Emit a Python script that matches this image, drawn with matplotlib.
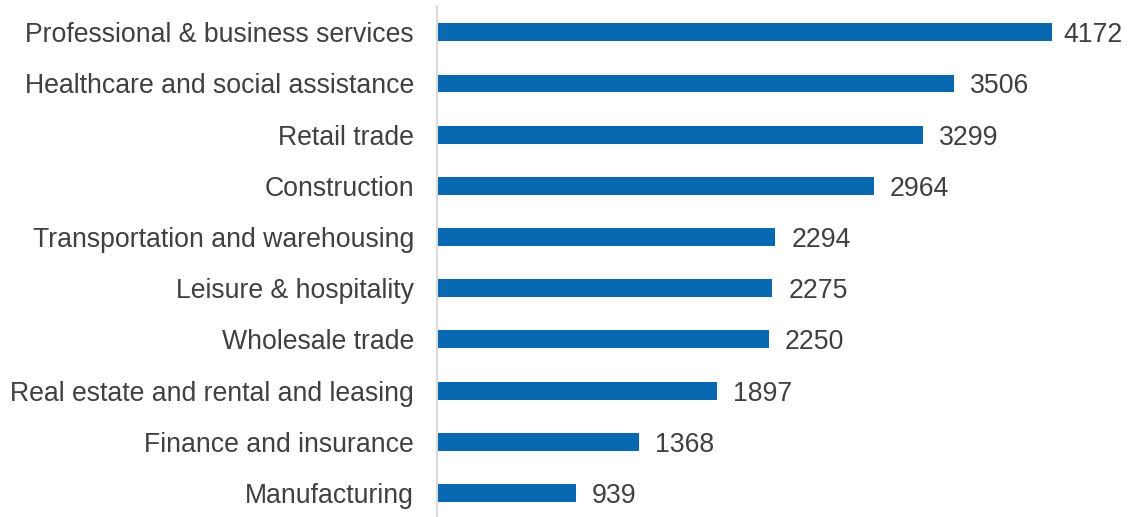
import matplotlib.pyplot as plt

industries = ['Professional & business services', 'Healthcare and social assistance',
              'Retail trade', 'Construction', 'Transportation and warehousing',
              'Leisure & hospitality', 'Wholesale trade',
              'Real estate and rental and leasing', 'Finance and insurance',
              'Manufacturing']
counts = [4172, 3506, 3299, 2964, 2294, 2275, 2250, 1897, 1368, 939]

plt.rcParams['font.family'] = ['Liberation Sans', 'DejaVu Sans']

bar_color = '#0868b0'
text_color = '#404040'

fig = plt.figure(figsize=(11.29, 5.17), dpi=100)
ax = fig.add_axes([0.3875, 0.0, 0.6125, 0.988])

ypos = list(range(len(industries)))[::-1]
ax.barh(ypos, counts, height=0.35, color=bar_color)

# value labels sit just right of each bar, kept inside the figure edge
for y, v in zip(ypos, counts):
    ax.text(min(v + 109, 4250), y, str(v), va='center_baseline', ha='left',
            fontsize=19.2, color=text_color)

ax.set_yticks(ypos)
ax.set_yticklabels(industries, fontsize=19.2, color=text_color)
ax.tick_params(axis='y', length=0, pad=17)
ax.set_xticks([])
ax.set_xlim(0, 4698)
ax.set_ylim(-0.47, 9.51)

for side in ['top', 'right', 'bottom']:
    ax.spines[side].set_visible(False)
ax.spines['left'].set_color('#d9d9d9')
ax.spines['left'].set_linewidth(1.5)

fig.savefig('out.png', dpi=100)
